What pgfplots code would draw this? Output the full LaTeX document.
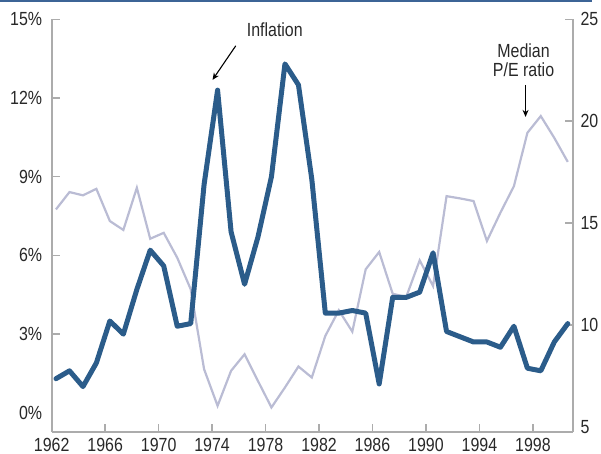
\documentclass[border=0pt]{standalone}
\usepackage{fontspec}
\setmainfont{Liberation Sans}[FakeStretch=0.84]
\usepackage{pgfplots}
\pgfplotsset{compat=1.18}
\usetikzlibrary{arrows.meta}
\definecolor{infl}{RGB}{43,92,138}
\definecolor{pe}{RGB}{186,188,212}
\definecolor{axgray}{RGB}{172,172,172}
\definecolor{rulec}{RGB}{60,100,150}
\definecolor{txt}{RGB}{40,40,40}
\pgfplotsset{myax/.style={scale only axis, width=521.3bp, height=412.4bp,
  at={(0,0)}, anchor=south west, xmin=1962, xmax=2001,
  tick align=inside, major tick length=8bp,
  every tick/.style={axgray, line width=1.5bp},
  axis line style={axgray, line width=2bp},
  tick label style={font=\fontsize{19bp}{22bp}\selectfont, text=txt},
  /pgf/number format/assume math mode=true}}
\begin{document}
\begin{tikzpicture}
\useasboundingbox (-51.7bp,-22.3bp) rectangle (549.3bp,431.7bp);
\draw[rulec, line width=2bp] (-51.7bp,430.4bp) -- (540.3bp,430.4bp);
% right axis: median P/E ratio
\begin{axis}[myax, axis y line*=right, axis x line=none,
  yticklabel style={xshift=4bp},
  ymin=4.76, ymax=25, ytick={10,15,20,25}, yticklabels={10,15,20,25},
  extra y ticks={5}, extra y tick labels={5}, extra y tick style={major tick length=0pt}]
\addplot[pe, line width=2.2bp] coordinates {
(1962.32,15.67)(1963.33,16.52)(1964.34,16.36)(1965.34,16.68)(1966.35,15.10)
(1967.36,14.66)(1968.37,16.73)(1969.37,14.23)(1970.38,14.52)(1971.39,13.30)
(1972.40,11.75)(1973.40,7.83)(1974.41,6.03)(1975.42,7.75)(1976.43,8.56)
(1977.43,7.25)(1978.44,5.95)(1979.45,6.93)(1980.46,7.96)(1981.46,7.42)
(1982.47,9.46)(1983.48,10.72)(1984.49,9.67)(1985.49,12.73)(1986.50,13.58)
(1987.51,11.53)(1988.52,11.37)(1989.53,13.17)(1990.53,11.91)(1991.54,16.32)
(1992.55,16.21)(1993.56,16.08)(1994.56,14.12)(1995.57,15.51)(1996.58,16.81)
(1997.59,19.43)(1998.59,20.25)(1999.60,19.18)(2000.61,18.00)};
\end{axis}
% left axis: inflation
\begin{axis}[myax, axis y line*=left, axis x line*=bottom, clip=false,
  yticklabel style={xshift=-6bp}, xticklabel style={yshift=-3bp},
  ymin=-0.72, ymax=15, ytick={3,6,9,12,15}, yticklabels={3\%,6\%,9\%,12\%,15\%},
  extra y ticks={0}, extra y tick labels={0\%}, extra y tick style={major tick length=0pt},
  xtick={1962,1966,1970,1974,1978,1982,1986,1990,1994,1998},
  xticklabels={1962,1966,1970,1974,1978,1982,1986,1990,1994,1998}]
\addplot[infl, line width=5bp, line join=round, line cap=round] coordinates {
(1962.32,1.3)(1963.33,1.6)(1964.34,1.0)(1965.34,1.9)(1966.35,3.5)
(1967.36,3.0)(1968.37,4.7)(1969.37,6.2)(1970.38,5.6)(1971.39,3.3)
(1972.40,3.4)(1973.40,8.7)(1974.41,12.3)(1975.42,6.9)(1976.43,4.9)
(1977.43,6.7)(1978.44,9.0)(1979.45,13.3)(1980.46,12.5)(1981.46,8.9)
(1982.47,3.8)(1983.48,3.8)(1984.49,3.9)(1985.49,3.8)(1986.50,1.1)
(1987.51,4.4)(1988.52,4.4)(1989.53,4.6)(1990.53,6.1)(1991.54,3.1)
(1992.55,2.9)(1993.56,2.7)(1994.56,2.7)(1995.57,2.5)(1996.58,3.3)
(1997.59,1.7)(1998.59,1.6)(1999.60,2.7)(2000.61,3.4)};
\node[font=\fontsize{19bp}{22bp}\selectfont, text=txt] at (axis cs:1978.69,14.59) {Inflation};
\draw[-{Stealth[length=7bp,width=6bp]}, line width=1.1bp, black] (axis cs:1975.77,13.99) -- (axis cs:1974.03,12.69);
\node[font=\fontsize{19bp}{22bp}\selectfont, text=txt, align=center] at (axis cs:1997.3,13.45) {Median\\[-3bp]P/E ratio};
\draw[-{Stealth[length=7bp,width=6bp]}, line width=1.1bp, black] (axis cs:1997.45,12.50) -- (axis cs:1997.45,11.28);
\end{axis}
\end{tikzpicture}
\end{document}
